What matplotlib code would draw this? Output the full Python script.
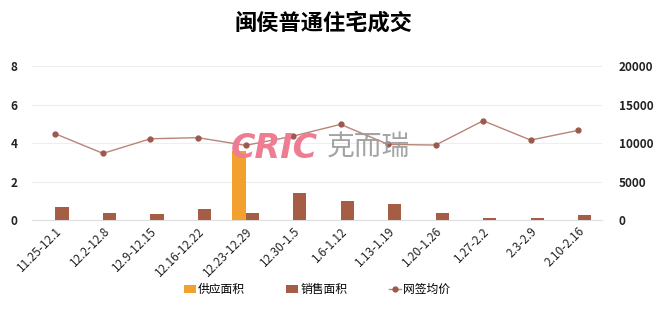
import numpy as np
import matplotlib.pyplot as plt

plt.rcParams['font.family'] = ['Noto Sans CJK SC', 'DejaVu Sans']

# data
weeks = ['11.25-12.1', '12.2-12.8', '12.9-12.15', '12.16-12.22', '12.23-12.29', '12.30-1.5',
         '1.6-1.12', '1.13-1.19', '1.20-1.26', '1.27-2.2', '2.3-2.9', '2.10-2.16']
supply = [0, 0, 0, 0, 3.6, 0, 0, 0, 0, 0, 0, 0]
sales = [0.69, 0.38, 0.31, 0.55, 0.36, 1.38, 0.99, 0.85, 0.36, 0.08, 0.12, 0.26]
price = [11200, 8660, 10560, 10700, 9700, 10900, 12430, 9830, 9740, 12900, 10390, 11650]

fig = plt.figure(figsize=(6.6, 3.09), dpi=100)
ax = fig.add_axes([0.048, 0.288, 0.864, 0.498])
ax2 = ax.twinx()

x = np.arange(len(weeks))
w = 0.28
ax.bar(x - w / 2, supply, w, color='#F2A12E', label='供应面积', zorder=3)
ax.bar(x + w / 2, sales, w, color='#A65D45', label='销售面积', zorder=3)
ax2.plot(x, price, color='#B88578', lw=1, marker='o', ms=3.5,
         markerfacecolor='#9A5A4C', markeredgecolor='#9A5A4C', label='网签均价', zorder=4)

ax.set_xlim(-0.5, len(weeks) - 0.5)
ax.set_ylim(0, 8)
ax.set_yticks([0, 2, 4, 6, 8])
ax2.set_ylim(0, 20000)
ax2.set_yticks([0, 5000, 10000, 15000, 20000])
ax.grid(axis='y', color='#EEEEEE', lw=0.8, zorder=0)
ax.set_axisbelow(True)

for a in (ax, ax2):
    for s in a.spines.values():
        s.set_visible(False)
    a.tick_params(length=0, labelsize=8.5, colors='#222222')
ax.spines['bottom'].set_visible(True)
ax.spines['bottom'].set_color('#DDDDDD')
ax.tick_params(axis='y', pad=10)
ax2.tick_params(axis='y', pad=12)
for t in ax.get_yticklabels() + ax2.get_yticklabels():
    t.set_fontweight('bold')

ax.set_xticks(x)
ax.set_xticklabels(weeks, rotation=45, ha='right', rotation_mode='anchor', fontsize=8.5)

fig.text(0.49, 0.925, '闽侯普通住宅成交', ha='center', va='center', fontsize=16, fontweight='bold')

# watermark
fig.text(0.416, 0.521, 'CRIC', ha='center', va='center', fontsize=24, fontweight='bold',
         style='italic', color='#EE7C93', family='DejaVu Sans', zorder=10)
fig.text(0.558, 0.521, '克而瑞', ha='center', va='center', fontsize=20,
         color='#9A9A9A', alpha=0.9, zorder=10)

h1, l1 = ax.get_legend_handles_labels()
h2, l2 = ax2.get_legend_handles_labels()
fig.legend(h1 + h2, l1 + l2, loc='center', bbox_to_anchor=(0.48, 0.062), ncol=3, frameon=False,
           fontsize=8.5, handlelength=1.0, handleheight=0.6, handletextpad=0.2, columnspacing=3.5)

fig.savefig('out.png', dpi=100)
